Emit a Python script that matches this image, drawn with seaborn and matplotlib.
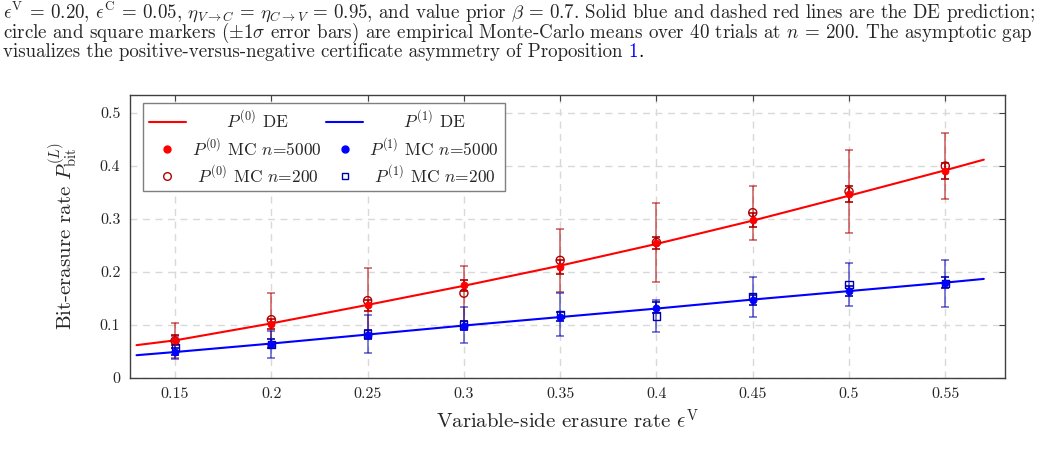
import numpy as np
import pandas as pd
import matplotlib
matplotlib.use("Agg")
import matplotlib.pyplot as plt
import seaborn as sns
from matplotlib.lines import Line2D

# ---------------- data ----------------
de_x = [0.13, 0.15, 0.20, 0.25, 0.30, 0.35, 0.40, 0.45, 0.50, 0.55, 0.57]
de_p0 = [0.062, 0.071, 0.103, 0.138, 0.174, 0.212, 0.253, 0.297, 0.344, 0.392, 0.412]
de_p1 = [0.043, 0.049, 0.065, 0.082, 0.099, 0.115, 0.131, 0.148, 0.164, 0.180, 0.187]

mc_x = [0.15, 0.20, 0.25, 0.30, 0.35, 0.40, 0.45, 0.50, 0.55]
p0_5000 = [0.072, 0.102, 0.137, 0.175, 0.210, 0.255, 0.298, 0.347, 0.391]
p0_5000_sd = [0.010, 0.010, 0.010, 0.010, 0.013, 0.012, 0.013, 0.015, 0.015]
p0_200 = [0.070, 0.110, 0.146, 0.160, 0.222, 0.256, 0.312, 0.352, 0.400]
p0_200_sd = [0.033, 0.050, 0.061, 0.052, 0.060, 0.074, 0.051, 0.079, 0.063]
p1_5000 = [0.050, 0.065, 0.082, 0.099, 0.116, 0.133, 0.147, 0.164, 0.180]
p1_5000_sd = [0.007, 0.008, 0.008, 0.008, 0.009, 0.010, 0.009, 0.010, 0.010]
p1_200 = [0.057, 0.063, 0.083, 0.100, 0.120, 0.117, 0.153, 0.176, 0.178]
p1_200_sd = [0.022, 0.026, 0.036, 0.034, 0.041, 0.031, 0.037, 0.041, 0.044]

x_ticks = [0.15, 0.20, 0.25, 0.30, 0.35, 0.40, 0.45, 0.50, 0.55]
x_tick_labels = ["0.15", "0.2", "0.25", "0.3", "0.35", "0.4", "0.45", "0.5", "0.55"]
y_ticks = [0.0, 0.1, 0.2, 0.3, 0.4, 0.5]
y_tick_labels = ["0", "0.1", "0.2", "0.3", "0.4", "0.5"]

caption = [
    r"$\epsilon^{\mathrm{V}}$ = 0.20, $\epsilon^{\mathrm{C}}$ = 0.05, $\eta_{V\to C}$ = $\eta_{C\to V}$ = 0.95, and value prior $\beta$ = 0.7. Solid blue and dashed red lines are the DE prediction;",
    r"circle and square markers ($\pm1\sigma$ error bars) are empirical Monte-Carlo means over 40 trials at $n$ = 200. The asymptotic gap",
    r"visualizes the positive-versus-negative certificate asymmetry of Proposition ",
]
caption_ref = "1"

# ---------------- style ----------------
sns.set_theme(style="white")
plt.rcParams["font.family"] = ["cmr10", "DejaVu Serif"]
plt.rcParams["mathtext.fontset"] = "cm"
plt.rcParams["axes.formatter.use_mathtext"] = True

RED = "#ff0000"
BLUE = "#0000ff"
DRED = "#b00000"
DBLUE = "#0000b0"

W, H = 1040, 463
fig = plt.figure(figsize=(W / 100, H / 100), dpi=100)
ax = fig.add_axes([130 / W, 1 - 378 / H, 875 / W, 283 / H])

de_df = pd.DataFrame({"x": de_x, "p0": de_p0, "p1": de_p1})
mc_df = pd.DataFrame({"x": mc_x, "p0_5000": p0_5000, "p0_200": p0_200,
                      "p1_5000": p1_5000, "p1_200": p1_200})

# error bars (n=200: large, translucent; n=5000: small)
ekw = dict(fmt="none", elinewidth=1.2, capsize=2.8, capthick=1.2)
ax.errorbar(mc_x, p0_200, yerr=p0_200_sd, ecolor=DRED, alpha=0.6, zorder=2, **ekw)
ax.errorbar(mc_x, p1_200, yerr=p1_200_sd, ecolor=DBLUE, alpha=0.6, zorder=2, **ekw)
ax.errorbar(mc_x, p0_5000, yerr=p0_5000_sd, ecolor=DRED, zorder=3, **ekw)
ax.errorbar(mc_x, p1_5000, yerr=p1_5000_sd, ecolor=DBLUE, zorder=3, **ekw)

# DE lines
sns.lineplot(data=de_df, x="x", y="p0", ax=ax, color=RED, linewidth=1.5, zorder=4)
sns.lineplot(data=de_df, x="x", y="p1", ax=ax, color=BLUE, linewidth=1.5, zorder=4)

# MC markers
sns.scatterplot(data=mc_df, x="x", y="p0_200", ax=ax, marker="o", s=34,
                facecolor="none", edgecolor=DRED, linewidth=1.0, zorder=5)
sns.scatterplot(data=mc_df, x="x", y="p1_200", ax=ax, marker="s", s=26,
                facecolor="none", edgecolor=DBLUE, linewidth=1.0, zorder=5)
sns.scatterplot(data=mc_df, x="x", y="p0_5000", ax=ax, marker="o", s=26,
                color=RED, edgecolor=RED, linewidth=0.5, zorder=6)
sns.scatterplot(data=mc_df, x="x", y="p1_5000", ax=ax, marker="o", s=26,
                color=BLUE, edgecolor=BLUE, linewidth=0.5, zorder=6)

ax.set_xlim(0.1266, 0.581)
ax.set_ylim(0.0, 0.534)
ax.set_xticks(x_ticks)
ax.set_xticklabels(x_tick_labels)
ax.set_yticks(y_ticks)
ax.set_yticklabels(y_tick_labels)
ax.grid(True, linestyle=(0, (5, 4)), color="#d9d9d9", linewidth=1.0)
ax.set_axisbelow(True)
for sp in ax.spines.values():
    sp.set_color("#404040")
    sp.set_linewidth(1.0)
ax.tick_params(direction="in", length=4, width=0.8, color="#404040",
               top=True, right=True, labelsize=11.5, pad=7)

ax.set_xlabel(r"Variable-side erasure rate $\epsilon^{\mathrm{V}}$", fontsize=15, labelpad=5)
ax.set_ylabel(r"Bit-erasure rate $P_{\mathrm{bit}}^{(L)}$", fontsize=15, labelpad=14)

handles = [
    Line2D([], [], color=RED, linewidth=1.5),
    Line2D([], [], color=RED, marker="o", linestyle="none", markersize=5),
    Line2D([], [], color=DRED, marker="o", linestyle="none", markersize=5.5,
           markerfacecolor="none", markeredgewidth=1.0),
    Line2D([], [], color=BLUE, linewidth=1.5),
    Line2D([], [], color=BLUE, marker="o", linestyle="none", markersize=5),
    Line2D([], [], color=DBLUE, marker="s", linestyle="none", markersize=5,
           markerfacecolor="none", markeredgewidth=1.0),
]
pad = "      "
labels = [
    pad + r"$P^{(0)}$ DE", r"$P^{(0)}$ MC $n$=5000", r" $P^{(0)}$ MC $n$=200",
    pad + r"$P^{(1)}$ DE", r"$P^{(1)}$ MC $n$=5000", r" $P^{(1)}$ MC $n$=200",
]
leg = ax.legend(handles, labels, ncol=2, loc="upper left",
                bbox_to_anchor=(13 / 875, 1 - 8 / 283), borderaxespad=0,
                fontsize=12.5, frameon=True,
                fancybox=False, edgecolor="#7f7f7f", framealpha=1.0,
                handlelength=2.1, columnspacing=0.3, labelspacing=0.33,
                borderpad=0.35, handletextpad=0.35)
leg.get_frame().set_linewidth(1.0)

# caption text at top (lines 1-2 justified to the figure width)
fig.canvas.draw()
r = fig.canvas.get_renderer()
baselines = [18, 37.5, 57]
targets = [1035, 1033]
base_fs = 12.0
sizes = []
for i in range(2):
    t = fig.text(3 / W, 1 - baselines[i] / H, caption[i], fontsize=base_fs,
                 va="baseline", ha="left")
    bb = t.get_window_extent(renderer=r)
    fs = base_fs * (targets[i] - 3) / bb.width
    t.set_fontsize(fs)
    sizes.append(fs)
fs3 = sizes[0]
y3 = 1 - baselines[2] / H
t3 = fig.text(3 / W, y3, caption[2], fontsize=fs3, va="baseline", ha="left")
fig.canvas.draw()
bb = t3.get_window_extent(renderer=r)
t1 = fig.text(bb.x1 / W, y3, caption_ref, fontsize=fs3, va="baseline",
              ha="left", color=BLUE)
fig.canvas.draw()
bb1 = t1.get_window_extent(renderer=r)
fig.text(bb1.x1 / W, y3, ".", fontsize=fs3, va="baseline", ha="left",
         color="black")

fig.savefig("out.png", dpi=100)
